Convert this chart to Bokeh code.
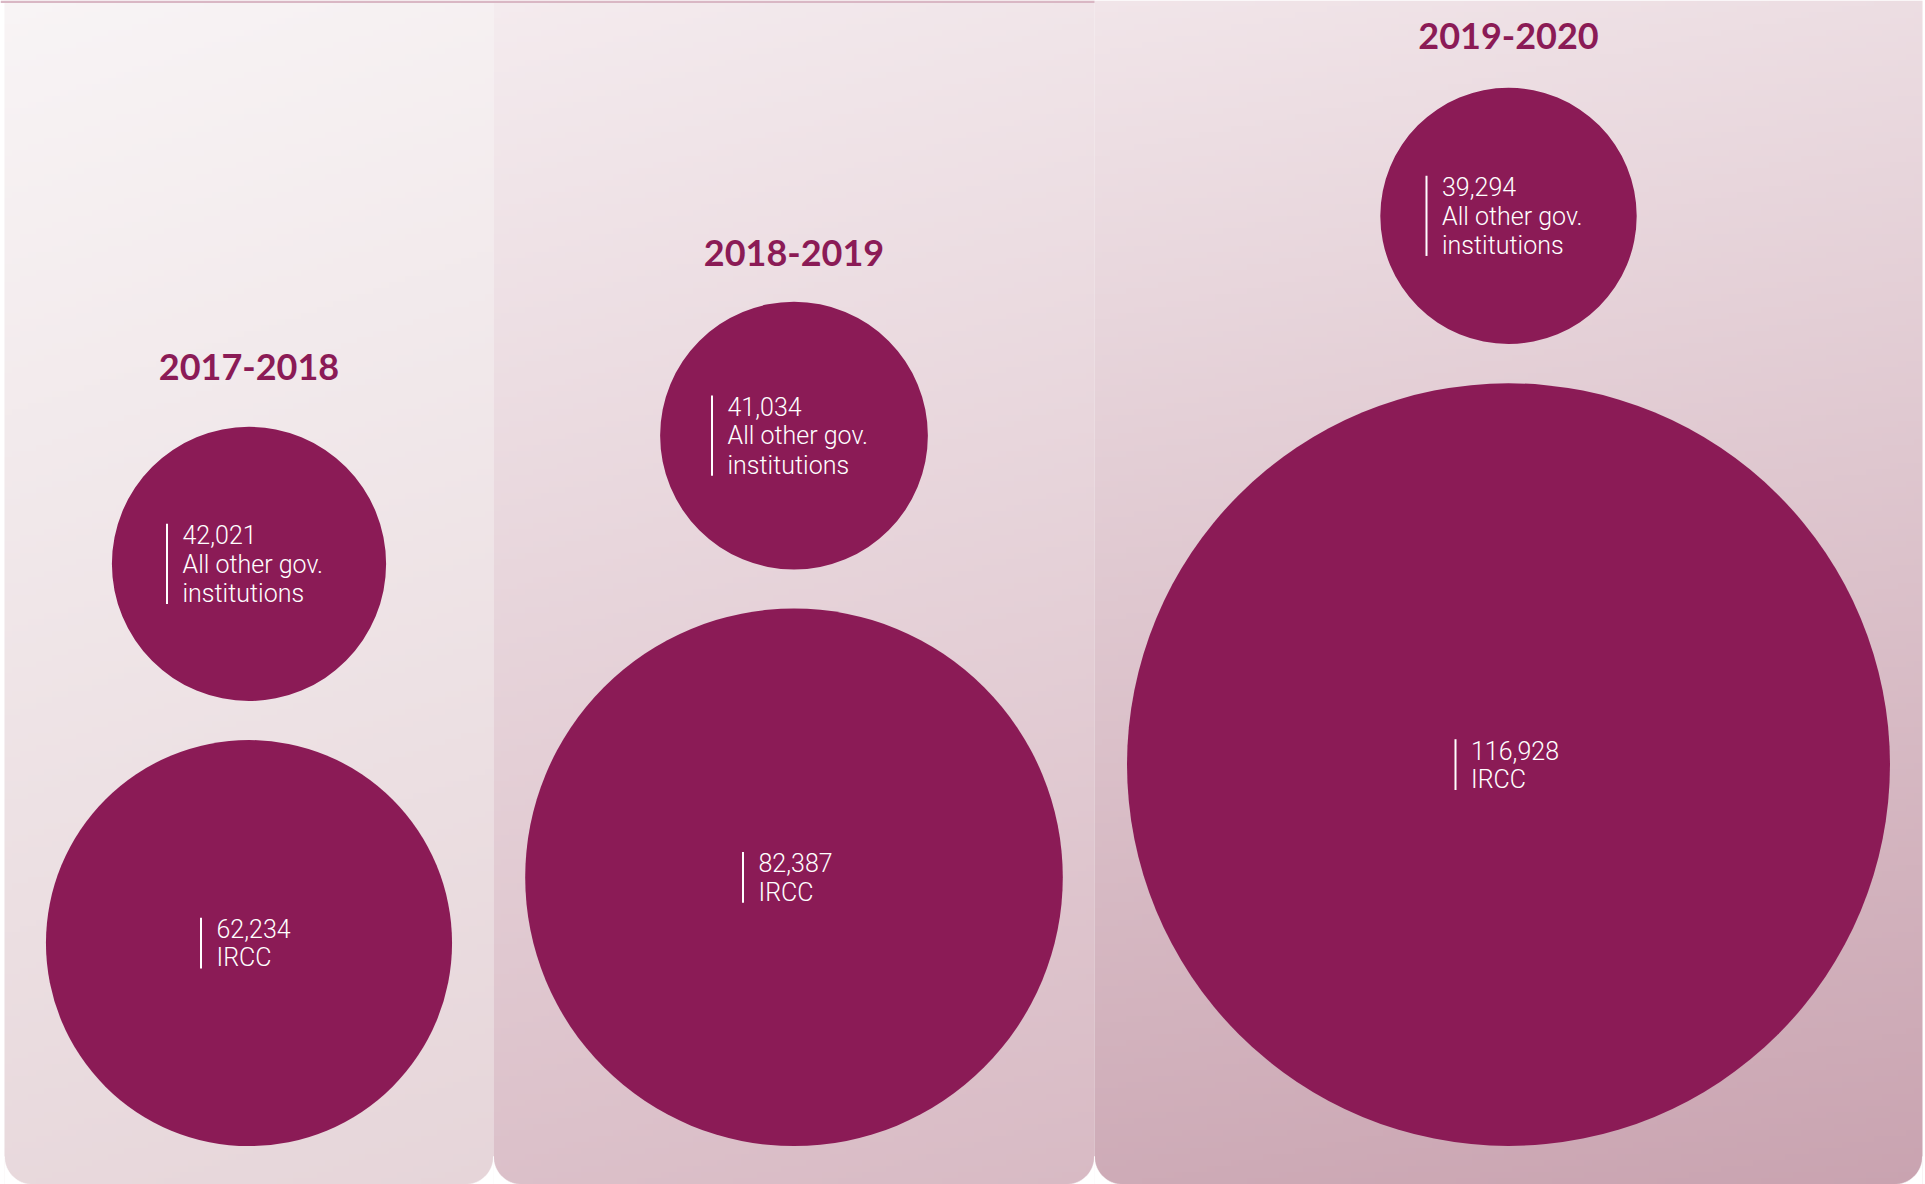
import textwrap
import numpy as np
from bokeh.plotting import figure
from bokeh.models import Range1d
from bokeh.embed import file_html
from bokeh.resources import INLINE
from bokeh.core.properties import value

# ---------------- data ----------------
years = ["2017-2018", "2018-2019", "2019-2020"]
categories = ["All other gov. institutions", "IRCC"]
other_gov = [42021, 41034, 39294]
ircc = [62234, 82387, 116928]

# ---------------- layout / style ----------------
W, H = 1925, 1184
panel_edges = [4, 493, 1094, 1922]
panel_top_colors = ["#f8f4f5", "#f4ebee", "#f1e5e9"]
panel_bottom_colors = ["#e6d5d9", "#d8bac4", "#c9a3b0"]
corner_r = 28
units_per_px = 306.5          # value units per pixel of radius
base_y = 1145.6               # screen y of bottom of big circles
circle_gap = 39
title_gap = [48, 37, 39]
label_dx_small = -82
label_dx_large = [-48, -51, -53]
line_h = 29.3
bubble_color = "#8b1b56"
label_font = value("Roboto Light")
title_font = value("Lato")
label_size, title_size = 25, 36


def Y(ys):
    return H - ys


def hex_rgb(h):
    h = h.lstrip("#")
    return np.array([int(h[i:i + 2], 16) for i in (0, 2, 4)], dtype=float)


def gradient(top, bottom, nx, ny, diag=0.12):
    top, bottom = hex_rgb(top), hex_rgb(bottom)
    yy = np.linspace(1, 0, ny)
    xx = np.linspace(0, 1, nx)
    t = yy[:, None] * (1 - diag) + xx[None, :] * diag
    t = np.clip(t, 0, 1)
    rgb = top + (bottom - top) * t[..., None]
    img = np.empty((ny, nx), dtype=np.uint32)
    v = img.view(dtype=np.uint8).reshape((ny, nx, 4))
    v[..., :3] = np.round(rgb).astype(np.uint8)
    v[..., 3] = 255
    return img


p = figure(width=W, height=H, x_range=Range1d(0, W), y_range=Range1d(0, H),
           output_backend="svg", toolbar_location=None,
           x_axis_location=None, y_axis_location=None, min_border=0)
p.grid.visible = False
p.outline_line_color = None
p.background_fill_color = "white"
p.border_fill_color = "white"

# panel backgrounds
for i in range(3):
    x0, x1 = panel_edges[i], panel_edges[i + 1]
    img = gradient(panel_top_colors[i], panel_bottom_colors[i],
                   max(2, (x1 - x0) // 8), H // 6)
    p.image_rgba(image=[img], x=x0, y=0, dw=x1 - x0, dh=H)

# top pink rule over first two panels
p.quad(left=[0], right=[panel_edges[2]], bottom=[Y(2.4)], top=[H],
       fill_color="#d9b7c4", line_color=None)

# rounded bottom corners (white cut-outs)
xs_c, ys_c = [], []
ang_l = np.linspace(np.pi, 1.5 * np.pi, 20)
ang_r = np.linspace(1.5 * np.pi, 2 * np.pi, 20)
for i in range(3):
    x0, x1 = panel_edges[i], panel_edges[i + 1]
    cxl, cxr, cy = x0 + corner_r, x1 - corner_r, corner_r
    xs_c.append([x0] + list(cxl + corner_r * np.cos(ang_l)))
    ys_c.append([0] + list(cy + corner_r * np.sin(ang_l)))
    xs_c.append([x1] + list(cxr + corner_r * np.cos(ang_r)))
    ys_c.append([0] + list(cy + corner_r * np.sin(ang_r)))
p.patches(xs_c, ys_c, fill_color="white", line_color="white", line_width=0.5)

# bubbles
cxs, cys, rs = [], [], []
title_x, title_y = [], []
bar_x0, bar_y0, bar_y1 = [], [], []
txt_x, txt_y, txt = [], [], []

for i in range(3):
    cx = (panel_edges[i] + panel_edges[i + 1]) / 2
    rL = ircc[i] / units_per_px
    rS = other_gov[i] / units_per_px
    cyL = base_y - rL
    cyS = cyL - rL - circle_gap - rS
    cxs += [cx, cx]
    cys += [Y(cyS), Y(cyL)]
    rs += [rS, rL]
    title_x.append(cx)
    title_y.append(Y(cyS - rS - title_gap[i]))

    for cyc, val, cat, dx in ((cyS, other_gov[i], categories[0], label_dx_small),
                              (cyL, ircc[i], categories[1], label_dx_large[i])):
        lines = [f"{val:,}"] + textwrap.wrap(cat, 14)
        n = len(lines)
        half = ((n - 1) * line_h + 21.5) / 2
        bar_x0.append(cx + dx)
        bar_y0.append(Y(cyc - half))
        bar_y1.append(Y(cyc + half))
        last = cyc + half - 0.5
        for k, ln in enumerate(lines):
            txt_x.append(cx + dx + 15.5)
            txt_y.append(Y(last - (n - 1 - k) * line_h))
            txt.append(ln)

p.circle(x=cxs, y=cys, radius=rs, fill_color=bubble_color, line_color=None)

p.segment(x0=bar_x0, y0=bar_y0, x1=bar_x0, y1=bar_y1,
          line_color="white", line_width=2)

p.text(x=txt_x, y=txt_y, text=txt, text_font=label_font,
       text_font_size=f"{label_size}px", text_color="white",
       text_align="left", text_baseline="alphabetic",
       y_offset=-0.4 * label_size)

p.text(x=title_x, y=title_y, text=years, text_font=title_font,
       text_font_style="bold", text_font_size=f"{title_size}px",
       text_color=bubble_color, text_align="center",
       text_baseline="alphabetic", y_offset=-0.34 * title_size)

open("out.html", "w").write(file_html(p, INLINE))
